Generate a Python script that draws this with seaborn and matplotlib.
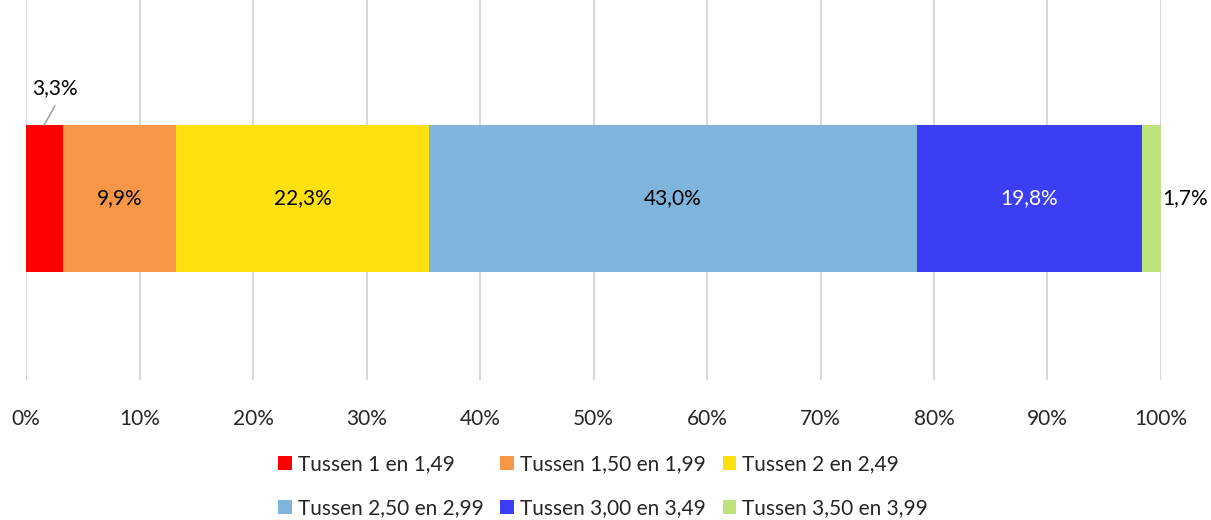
import matplotlib.pyplot as plt
import seaborn as sns
import pandas as pd
import numpy as np

# Data
categories = ['Tussen 1 en 1,49', 'Tussen 1,50 en 1,99', 'Tussen 2 en 2,49',
              'Tussen 2,50 en 2,99', 'Tussen 3,00 en 3,49', 'Tussen 3,50 en 3,99']
values = [3.3, 9.9, 22.3, 43.0, 19.8, 1.7]
colors = ['#FF0000', '#F79646', '#FFE00F', '#7FB5DC', '#3B3EF5', '#BEE37D']
label_colors = ['black', 'black', 'black', 'black', 'white', 'black']
tick_labels = ['0%', '10%', '20%', '30%', '40%', '50%', '60%', '70%', '80%', '90%', '100%']

sns.set_style('white')
plt.rcParams['font.family'] = ['Lato', 'DejaVu Sans']
fs = 15

fig = plt.figure(figsize=(12.11, 5.2), dpi=100)
ax = fig.add_axes([0.0215, 0.269, 0.9372, 0.731])

# Stacked bar: draw cumulative totals from largest to smallest
total = sum(values)
shares = [v / total * 100 for v in values]
cum = np.cumsum(shares)
for i in range(len(categories) - 1, -1, -1):
    df = pd.DataFrame({'groep': ['all'], 'pct': [cum[i]]})
    sns.barplot(data=df, x='pct', y='groep', color=colors[i], width=1.0,
                saturation=1, ax=ax, zorder=2, label=categories[i], linewidth=0)

ax.set_ylim(1.235, -1.35)
ax.set_xlim(0, 100)
ax.set_xticks(np.arange(0, 101, 10))
ax.set_xticklabels(tick_labels, fontsize=fs)
ax.set_yticks([])
ax.set_xlabel('')
ax.set_ylabel('')
ax.tick_params(axis='x', length=0, pad=21)
ax.grid(axis='x', color='#D9D9D9', linewidth=1.5, zorder=0)
ax.set_axisbelow(True)
for s in ax.spines.values():
    s.set_visible(False)

# Data labels
starts = cum - np.array(shares)
for i, v in enumerate(values):
    txt = f'{v:.1f}%'.replace('.', ',')
    mid = starts[i] + shares[i] / 2
    if i == 0:
        ax.plot([starts[i] + 1.6, 2.55], [-0.5, -0.63], color='#A6A6A6', lw=1.2, zorder=3)
        ax.text(2.55, -0.75, txt, ha='center', va='center', fontsize=fs, color='black')
    elif i == len(values) - 1:
        ax.text(100.15, 0, txt, ha='left', va='center', fontsize=fs, color='black')
    else:
        ax.text(mid, 0, txt, ha='center', va='center', fontsize=fs, color=label_colors[i])

# Legend, row-wise order like the original
handles, labels = ax.get_legend_handles_labels()
if ax.get_legend() is not None:
    ax.get_legend().remove()
lookup = dict(zip(labels, handles))
order = [0, 3, 1, 4, 2, 5]
fig.legend([lookup[categories[k]] for k in order], [categories[k] for k in order],
           loc='upper center', bbox_to_anchor=(0.498, 0.142), ncol=3, frameon=False,
           fontsize=fs, handlelength=0.65, handleheight=0.65, handletextpad=0.3,
           columnspacing=0.8, labelspacing=1.15, borderaxespad=0)

plt.savefig('out.png', dpi=100)
